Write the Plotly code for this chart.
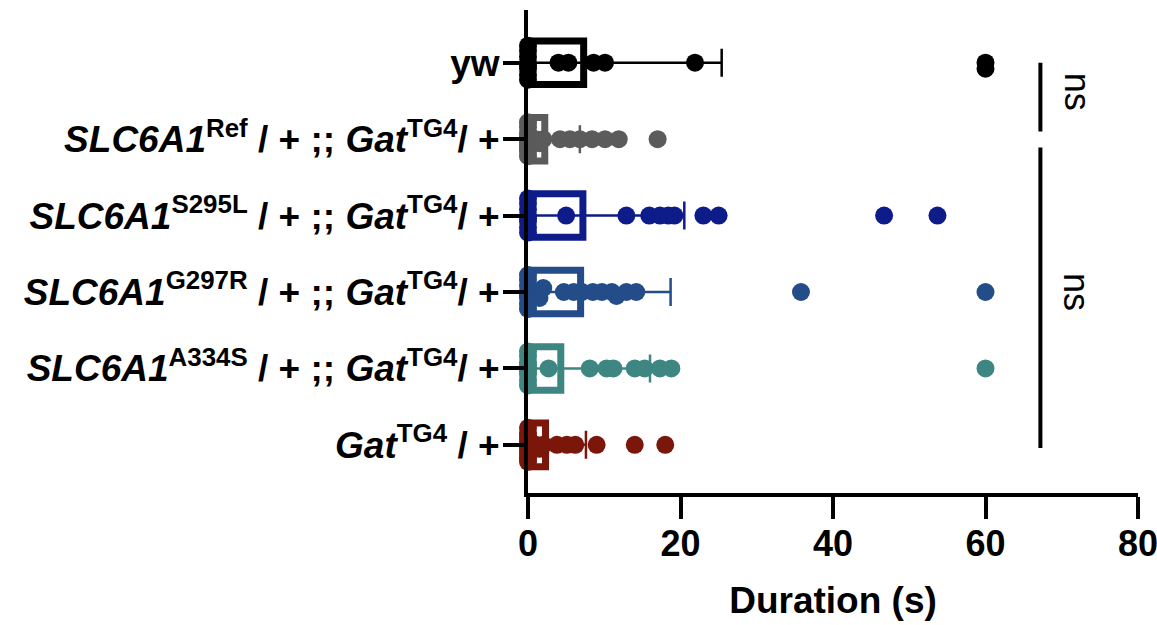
import plotly.graph_objects as go
import numpy as np

# ---------------- data ----------------
categories = [
    "yw",
    "<i>SLC6A1</i><sup>Ref</sup> / + ;; <i>Gat</i><sup>TG4</sup>/ +",
    "<i>SLC6A1</i><sup>S295L</sup> / + ;; <i>Gat</i><sup>TG4</sup>/ +",
    "<i>SLC6A1</i><sup>G297R</sup> / + ;; <i>Gat</i><sup>TG4</sup>/ +",
    "<i>SLC6A1</i><sup>A334S</sup> / + ;; <i>Gat</i><sup>TG4</sup>/ +",
    "<i>Gat</i><sup>TG4</sup> / +",
]
colors = ["#000000", "#5b5b5b", "#0e1c8a", "#234c89", "#3d8682", "#7a160a"]

means = [7.3, 2.2, 7.2, 6.9, 4.3, 2.3]
sds = [18.1, 4.6, 13.3, 11.8, 11.7, 5.3]

yw_vals = [0, 0, 0, 0, 0, 0, 0, 0, 4.0, 5.3, 8.6, 10.1, 21.9, 60, 60]
ref_vals = [0, 0, 0, 0, 0, 0, 0, 0, 0, 0, 1.0, 1.5, 2.0, 4.2, 5.5, 6.8, 8.4, 10.1, 11.9, 17.0]
s295l_vals = [0, 0, 0, 0, 0, 0, 0, 0, 5.0, 12.9, 15.9, 17.3, 18.4, 19.2, 23.0, 25.0, 46.7, 53.7]
g297r_vals = [0, 0, 0, 0, 0, 0, 0, 0, 1.5, 1.5, 2.0, 4.7, 6.0, 7.1, 8.5, 9.7, 11.0, 11.6, 12.9, 14.2, 35.8, 60]
a334s_vals = [0, 0, 0, 0, 0, 0, 0, 0, 0, 2.7, 8.1, 10.3, 11.2, 14.0, 15.3, 17.3, 18.8, 60]
gat_vals = [0, 0, 0, 0, 0, 0, 0, 0, 0, 0, 0, 0, 1.0, 1.5, 2.0, 3.8, 5.1, 6.2, 9.0, 14.0, 18.0]
group_vals = [yw_vals, ref_vals, s295l_vals, g297r_vals, a334s_vals, gat_vals]

x_ticks = [0, 20, 40, 60, 80]

# ---------------- geometry ----------------
W, H = 1157, 625
ML, MR, MT, MB = 528, 19, 10, 132
X_RANGE = [0, 80]
Y_RANGE = [5.63, -0.69]
px_per_x = (W - ML - MR) / (X_RANGE[1] - X_RANGE[0])
px_per_y = (H - MT - MB) / (Y_RANGE[0] - Y_RANGE[1])


def beeswarm(vals, min_dist=5.5, max_off=17.0, step=1.0):
    """Vertical offsets (in data units) so dots overlap like a swarm plot."""
    placed = []
    offs = []
    cands = [0.0]
    k = step
    while k <= max_off + 1e-9:
        cands += [k, -k]
        k += step
    for v in vals:
        xp = v * px_per_x
        best, best_d = 0.0, -1
        chosen = None
        for c in cands:
            d = min([np.hypot(xp - px, c - py) for px, py in placed] or [1e9])
            if d >= min_dist:
                chosen = c
                break
            if d > best_d:
                best_d, best = d, c
        if chosen is None:
            chosen = best
        placed.append((xp, chosen))
        offs.append(chosen / px_per_y)
    return offs


fig = go.Figure()

for i, (vals, col) in enumerate(zip(group_vals, colors)):
    fig.add_trace(go.Bar(
        x=[means[i]], y=[i], base=0, orientation="h", width=0.57,
        marker=dict(color="rgba(255,255,255,0)", line=dict(color=col, width=7)),
        error_x=dict(type="data", symmetric=False, array=[sds[i]], arrayminus=[means[i]],
                     color=col, thickness=2.5, width=14),
        showlegend=False, hoverinfo="skip",
    ))

for i, (vals, col) in enumerate(zip(group_vals, colors)):
    sv = sorted(vals)
    offs = beeswarm(sv)
    fig.add_trace(go.Scatter(
        x=sv, y=[i + o for o in offs], mode="markers",
        marker=dict(color=col, size=18, line=dict(width=0)),
        cliponaxis=False, showlegend=False,
    ))

# significance brackets
sig_x = 67.2
for y0, y1 in [(0.0, 0.90), (1.11, 5.04)]:
    fig.add_shape(type="line", xref="x", yref="y", x0=sig_x, x1=sig_x, y0=y0, y1=y1,
                  line=dict(color="black", width=4))
for yc in [0.38, 3.0]:
    fig.add_annotation(x=72.0, y=yc, xref="x", yref="y", text="ns", showarrow=False,
                       textangle=90, font=dict(family="Liberation Sans, Arial", size=36, color="black"))

fig.update_layout(
    width=W, height=H,
    margin=dict(l=ML, r=MR, t=MT, b=MB, autoexpand=False),
    plot_bgcolor="white", paper_bgcolor="white",
    barmode="overlay",
    showlegend=False,
    font=dict(family="Liberation Sans, Arial", color="black"),
)
fig.update_xaxes(
    range=X_RANGE, tickvals=x_ticks, ticktext=[str(t) for t in x_ticks],
    showgrid=False, zeroline=False, showline=True, linecolor="black", linewidth=4,
    ticks="outside", ticklen=22, tickwidth=4, tickcolor="black",
    ticklabeloverflow="allow", automargin=False, ticklabelstandoff=-6,
    tickfont=dict(family="Liberation Sans, Arial", size=36, weight="bold", color="black"),
    title=dict(text="Duration (s)", font=dict(family="Liberation Sans, Arial", size=37, weight="bold", color="black"), standoff=25),
)
fig.update_yaxes(
    range=Y_RANGE, tickvals=list(range(len(categories))), ticktext=categories,
    showgrid=False, zeroline=False, showline=True, linecolor="black", linewidth=4,
    ticks="outside", ticklen=21, tickwidth=4, tickcolor="black",
    automargin=False, ticklabelstandoff=-4,
    tickfont=dict(family="Liberation Sans, Arial", size=37, weight="bold", color="black"),
)

fig.write_html("out.html", config={"displayModeBar": False},
               post_script="document.body.style.margin='0';")
